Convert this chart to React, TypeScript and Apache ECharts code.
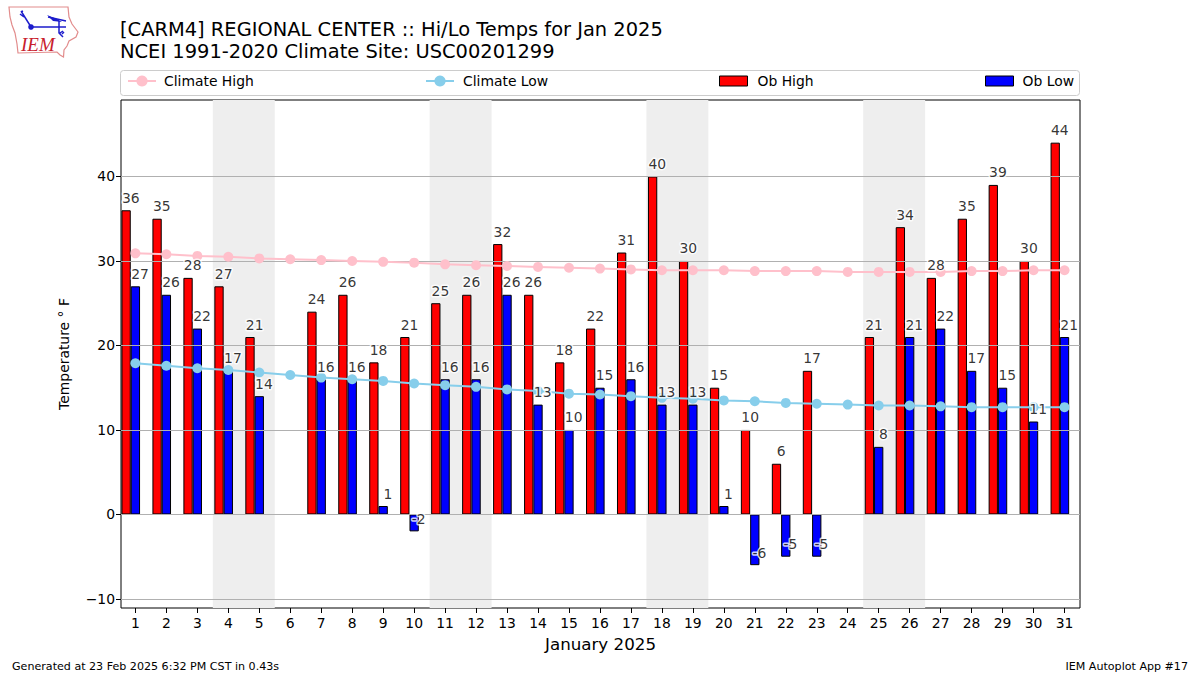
import React, { useEffect, useRef } from "react";
import * as echarts from "echarts";

const days = [1,2,3,4,5,6,7,8,9,10,11,12,13,14,15,16,17,18,19,20,21,22,23,24,25,26,27,28,29,30,31];
const obHigh = [36,35,28,27,21,null,24,26,18,21,25,26,32,26,18,22,31,40,30,15,10,6,17,null,21,34,28,35,39,30,44];
const obLow = [27,26,22,17,14,null,16,16,1,-2,16,16,26,13,10,15,16,13,13,1,-6,-5,-5,null,8,21,22,17,15,11,21];
const climateHigh = [30.9,30.8,30.6,30.5,30.3,30.2,30.1,30.0,29.9,29.8,29.6,29.5,29.4,29.3,29.2,29.1,29.0,28.9,28.9,28.9,28.8,28.8,28.8,28.7,28.7,28.7,28.7,28.8,28.8,28.9,28.9];
const climateLow = [17.9,17.6,17.3,17.1,16.8,16.5,16.2,16.0,15.8,15.5,15.3,15.1,14.8,14.6,14.3,14.2,14.0,13.8,13.7,13.5,13.4,13.2,13.1,13.0,12.9,12.9,12.8,12.7,12.7,12.7,12.7];
const weekendBands = [[3.5,5.5],[10.5,12.5],[17.5,19.5],[24.5,26.5]];
const yTicks = [-10,0,10,20,30,40];

const FONT = "DejaVu Sans";
const IOWA = "M9 7 L68 7 L69 17 L72 24 L78 32 L76 37 L69 41 L67 46 L64 50 L63.5 57 L60 55 L57 52 L18 53 L17 44 L15 33 L12 25 L10 17 Z";
const BARB = "M21 12 L23 11 M20 14 L24 17 M21 11 L31 27 L66 27 M59 21 L59 33 L63 37 M60 33 L63 31 M62 34 L64 32 M48 17 L66 21";

if (!(echarts.graphic as any).__iemRegistered) {
  echarts.graphic.registerShape("iowaOutline", echarts.graphic.extendPath(IOWA, {}) as any);
  echarts.graphic.registerShape("iemBarb", echarts.graphic.extendPath(BARB, {}) as any);
  (echarts.graphic as any).__iemRegistered = true;
}

const barPoints = (values: (number | null)[], dx: number) =>
  values.map((v, i) => [days[i] + dx, v]).filter((p) => p[1] !== null);

const labelSeries = (name: string, values: (number | null)[], dx: number) => ({
  type: "scatter",
  name,
  z: 6,
  silent: true,
  symbolSize: 1,
  itemStyle: { color: "rgba(0,0,0,0)" },
  data: barPoints(values, dx),
  label: {
    show: true,
    position: "top",
    distance: 5,
    fontFamily: FONT,
    fontSize: 13.9,
    color: "#000",
    textBorderColor: "#fff",
    textBorderWidth: 3,
    formatter: (p: any) => String(p.value[1]),
  },
});

const legendEntry = (name: string, left: number, isBar: boolean, gap: number) => ({
  show: true,
  data: [name],
  left,
  top: 74,
  padding: 0,
  itemWidth: 28,
  itemHeight: isBar ? 10 : 14,
  icon: isBar ? "rect" : undefined,
  ...(isBar ? { itemStyle: { borderWidth: 1, borderColor: "#000" } } : {}),
  textStyle: { fontFamily: FONT, fontSize: 13.9, color: "#000", padding: [0, 0, 0, gap] },
  selectedMode: false,
});

export default function App() {
  const ref = useRef<HTMLDivElement>(null);
  useEffect(() => {
    const chart = echarts.init(ref.current!, undefined, { renderer: "svg" });
    chart.setOption({
      animation: false,
      backgroundColor: "#fff",
      textStyle: { fontFamily: FONT },
      title: {
        text: "[CARM4] REGIONAL CENTER :: Hi/Lo Temps for Jan 2025\nNCEI 1991-2020 Climate Site: USC00201299",
        left: 120,
        top: 18,
        padding: 0,
        textStyle: { fontFamily: FONT, fontSize: 19.45, fontWeight: "normal", color: "#000", lineHeight: 22 },
      },
      legend: [
        legendEntry("Climate High", 127, false, 3),
        legendEntry("Climate Low", 425, false, 4),
        legendEntry("Ob High", 719, true, 5),
        legendEntry("Ob Low", 985, true, 4),
      ],
      grid: {
        show: true,
        left: 121,
        right: 120,
        top: 100,
        bottom: 67,
        borderColor: "#000",
        borderWidth: 1,
        backgroundColor: "rgba(0,0,0,0)",
        containLabel: false,
      },
      xAxis: {
        type: "value",
        min: 0.535,
        max: 31.5,
        name: "January 2025",
        nameLocation: "middle",
        nameGap: 27,
        nameTextStyle: { fontFamily: FONT, fontSize: 16.7, color: "#000" },
        axisLine: { show: false, onZero: false },
        axisTick: { show: true, length: 5, customValues: days, lineStyle: { color: "#000", width: 1 } },
        axisLabel: { customValues: days, fontFamily: FONT, fontSize: 13.9, color: "#000", margin: 8 },
        splitLine: { show: false },
      },
      yAxis: {
        type: "value",
        min: -11.07,
        max: 49.05,
        z: 3,
        name: "Temperature ° F",
        nameLocation: "middle",
        nameGap: 50,
        nameTextStyle: { fontFamily: FONT, fontSize: 13.9, color: "#000" },
        axisLine: { show: false, onZero: false },
        axisTick: { show: true, length: 5, customValues: yTicks, lineStyle: { color: "#000", width: 1 } },
        axisLabel: {
          customValues: yTicks,
          fontFamily: FONT,
          fontSize: 13.9,
          color: "#000",
          margin: 6,
          formatter: (v: number) => String(v).replace("-", "\u2212"),
        },
        splitLine: { show: true, lineStyle: { color: "#b0b0b0", width: 1 } },
      },
      series: [
        {
          type: "bar",
          name: "Ob High",
          z: 2,
          barWidth: 9.3,
          barGap: "-100%",
          itemStyle: { color: "#ff0000", borderColor: "#000", borderWidth: 1 },
          data: barPoints(obHigh, -0.3),
          markArea: {
            silent: true,
            z: 1,
            itemStyle: { color: "#eeeeee" },
            label: { show: false },
            data: weekendBands.map(([a, b]) => [{ xAxis: a }, { xAxis: b }]),
          },
        },
        {
          type: "bar",
          name: "Ob Low",
          z: 2,
          barWidth: 9.3,
          barGap: "-100%",
          itemStyle: { color: "#0000ff", borderColor: "#000", borderWidth: 1 },
          data: barPoints(obLow, 0),
        },
        {
          type: "line",
          name: "Climate High",
          z: 4,
          symbol: "circle",
          symbolSize: 10,
          showSymbol: true,
          lineStyle: { color: "#ffc0cb", width: 2 },
          itemStyle: { color: "#ffc0cb" },
          data: climateHigh.map((v, i) => [days[i], v]),
        },
        {
          type: "line",
          name: "Climate Low",
          z: 4,
          symbol: "circle",
          symbolSize: 10,
          showSymbol: true,
          lineStyle: { color: "#87ceeb", width: 2 },
          itemStyle: { color: "#87ceeb" },
          data: climateLow.map((v, i) => [days[i], v]),
        },
        labelSeries("High labels", obHigh, -0.15),
        labelSeries("Low labels", obLow, 0.15),
      ],
      graphic: [
        {
          type: "rect",
          z: 1,
          silent: true,
          shape: { x: 120.5, y: 70.5, width: 959, height: 25, r: 3 },
          style: { fill: "#fff", stroke: "#cccccc", lineWidth: 1 },
        },
        { type: "iowaOutline", x: 0, y: 0, silent: true, style: { fill: "#fff", stroke: "#e28c8c", lineWidth: 1.2 } },
        { type: "iemBarb", x: 0, y: 0, silent: true, style: { fill: "none", stroke: "#1c1ccc", lineWidth: 1.5 } },
        { type: "circle", silent: true, shape: { cx: 31, cy: 27, r: 2.8 }, style: { fill: "#1c1ccc" } },
        { type: "polygon", silent: true, shape: { points: [[47, 15], [57, 19], [62, 22], [53, 21]] }, style: { fill: "#1c1ccc" } },
        {
          type: "text",
          x: 21,
          y: 35,
          silent: true,
          style: { text: "IEM", fontFamily: "Liberation Serif", fontStyle: "italic", fontSize: 19, fill: "#c8202c" },
        },
        {
          type: "text",
          x: 12,
          y: 661,
          silent: true,
          style: { text: "Generated at 23 Feb 2025 6:32 PM CST in 0.43s", fontFamily: FONT, fontSize: 11.1, fill: "#000" },
        },
        {
          type: "text",
          x: 1188,
          y: 661,
          silent: true,
          style: { text: "IEM Autoplot App #17", fontFamily: FONT, fontSize: 11.1, fill: "#000", textAlign: "right" },
        },
      ],
    });
    return () => chart.dispose();
  }, []);
  return (
    <>
      <style>{"svg text{paint-order:stroke;stroke-linejoin:round}"}</style>
      <div ref={ref} style={{ position: "absolute", left: 0, top: 0, width: 1200, height: 675 }} />
    </>
  );
}
